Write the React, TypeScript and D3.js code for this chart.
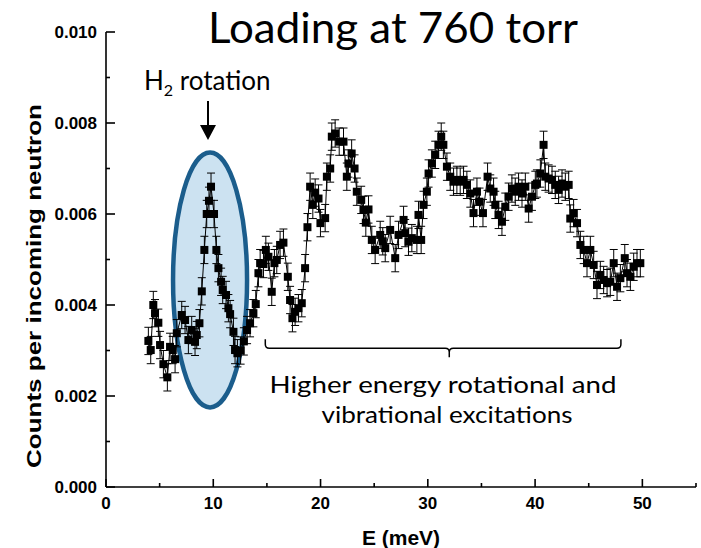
import React from "react";
import * as d3 from "d3";

const energy = [
  3.95, 4.17, 4.41, 4.57, 4.88, 5.04, 5.35, 5.72, 5.97, 6.22, 6.44, 6.6, 7.06, 7.37, 7.68, 7.99, 8.3, 8.46, 8.71,
  8.93, 9.17, 9.39, 9.6, 9.79, 10.07, 10.29, 10.48, 10.73, 10.88, 11.19, 11.41, 11.57, 11.88, 12.03, 12.25,
  12.55, 12.85, 13.15, 13.43, 13.74, 13.96, 14.21, 14.37, 14.68, 14.9, 15.14, 15.45, 15.7, 15.92, 16.23, 16.54,
  16.95, 17.16, 17.38, 17.63, 17.94, 18.25, 18.56, 18.78, 19.03, 19.28, 19.5, 19.81, 19.99, 20.43, 20.59, 20.9,
  21.05, 21.36, 21.74, 22.14, 22.45, 22.6, 22.9, 23.17, 23.38, 23.79, 24.0, 24.22, 24.47, 24.78, 25.09, 25.56,
  25.8, 26.03, 26.49, 26.96, 27.27, 27.74, 27.89, 28.2, 28.51, 28.98, 29.13, 29.38, 29.6, 29.91, 30.07, 30.38,
  30.69, 31.0, 31.25, 31.45, 31.78, 32.09, 32.4, 32.71, 33.02, 33.33, 33.64, 33.96, 34.26, 34.58, 34.82, 35.14,
  35.57, 35.82, 36.13, 36.29, 36.6, 36.91, 37.22, 37.53, 37.84, 38.15, 38.46, 38.78, 39.09, 39.4, 39.71, 40.02,
  40.17, 40.49, 40.79, 40.95, 41.26, 41.58, 41.88, 42.19, 42.51, 42.82, 43.13, 43.28, 43.59, 43.91, 44.22,
  44.53, 44.84, 45.15, 45.46, 45.77, 46.08, 46.39, 46.71, 47.01, 47.33, 47.64, 47.95, 48.36, 48.57, 48.88,
  49.19, 49.5, 49.81,
];

const counts = [
  0.00321, 0.00301, 0.004, 0.00382, 0.00361, 0.00312, 0.0027, 0.00241, 0.00308, 0.00301, 0.00281, 0.00338,
  0.00378, 0.00367, 0.00323, 0.00345, 0.00319, 0.00334, 0.0036,
  0.0043, 0.00521, 0.006, 0.00629, 0.0066, 0.006, 0.00521, 0.00481, 0.00451, 0.00433, 0.00422, 0.00393,
  0.0038, 0.00341, 0.00301, 0.00294,
  0.003, 0.0032, 0.00345, 0.0036, 0.00382, 0.00402, 0.0047, 0.00492, 0.0049, 0.00521, 0.00506, 0.00429,
  0.00492, 0.00499, 0.00532, 0.00537,
  0.00462, 0.00411, 0.00371, 0.00385, 0.00393, 0.00404, 0.00481, 0.00571, 0.0066, 0.0062, 0.00647, 0.00634,
  0.0058, 0.00591, 0.00682, 0.007,
  0.0077, 0.00777, 0.00759, 0.00759, 0.00682, 0.00711, 0.00733, 0.007, 0.00649, 0.00631, 0.00609, 0.00581,
  0.0061, 0.00543, 0.00521, 0.00554,
  0.0054, 0.00525, 0.00565, 0.00503, 0.00554, 0.00587, 0.00558, 0.00539, 0.00547, 0.00543, 0.00598, 0.00543,
  0.0062, 0.00649, 0.00689, 0.00711,
  0.0073, 0.00752, 0.0077, 0.00752, 0.00704, 0.00682, 0.00671, 0.00675, 0.00671, 0.00675, 0.00664, 0.00645,
  0.00602, 0.00649, 0.00627, 0.00602,
  0.00682, 0.00656, 0.00649, 0.0062, 0.00598, 0.00583, 0.00616, 0.00638, 0.00656, 0.00649, 0.0066, 0.00645,
  0.0066, 0.00612, 0.00638, 0.00664,
  0.00667, 0.00689, 0.00752, 0.00682, 0.00678, 0.00675, 0.00664, 0.00653, 0.00667, 0.0066, 0.00664, 0.0059,
  0.00602, 0.0058, 0.00532,
  0.00521, 0.00492, 0.00521, 0.00488, 0.00444, 0.00466, 0.00455, 0.00448, 0.00451, 0.00492, 0.0044, 0.00459,
  0.00503, 0.0047, 0.00462,
  0.00484, 0.00492, 0.00492,
];

const errorBar = 0.0003;

const xMajorTicks = [0, 10, 20, 30, 40, 50];
const xMinorTicks = [5, 15, 25, 35, 45, 55];
const yMajorTicks = [0, 0.002, 0.004, 0.006, 0.008, 0.01];
const yMinorTicks = [0.001, 0.003, 0.005, 0.007, 0.009];

const titleText = "Loading at 760 torr";
const xLabel = "E (meV)";
const yLabel = "Counts per incoming neutron";
const bracketLines = ["Higher energy rotational and", "vibrational excitations"];

// annotation anchors in data units
const ellipseCenter = { e: 9.7, c: 0.00455 };
const ellipseHalf = { e: 3.45, c: 0.0028 };
const bracketSpan = { from: 14.85, to: 48.0, mid: 32.0, c: 0.00305 };

export default function App() {
  const x = d3.scaleLinear().domain([0, 55]).range([106, 696]);
  const y = d3.scaleLinear().domain([0, 0.01]).range([487, 32]);
  const fmt = d3.format(".3f");
  const pts = energy.map((e, i) => ({ e, c: counts[i] }));
  const line = d3
    .line<{ e: number; c: number }>()
    .x((d) => x(d.e))
    .y((d) => y(d.c));

  const cx = x(ellipseCenter.e);
  const cy = y(ellipseCenter.c);
  const rx = x(ellipseCenter.e + ellipseHalf.e) - cx;
  const ry = cy - y(ellipseCenter.c + ellipseHalf.c);

  const bx0 = x(bracketSpan.from);
  const bx1 = x(bracketSpan.to);
  const bxm = x(bracketSpan.mid);
  const by = y(bracketSpan.c);
  const r = 4;
  const bracketPath = [
    `M${bx0},${by - 9}`,
    `L${bx0},${by - r}`,
    `Q${bx0},${by} ${bx0 + r},${by}`,
    `L${bxm - r},${by}`,
    `Q${bxm},${by} ${bxm},${by + r}`,
    `L${bxm},${by + 9}`,
    `M${bxm},${by + r}`,
    `Q${bxm},${by} ${bxm + r},${by}`,
    `L${bx1 - r},${by}`,
    `Q${bx1},${by} ${bx1},${by - r}`,
    `L${bx1},${by - 9}`,
  ].join(" ");

  const sq = 8;
  const cap = 4;

  return (
    <svg width={701} height={548} style={{ position: "absolute", left: 0, top: 0, background: "#fff" }}>
      <rect x={0} y={0} width={701} height={548} fill="#fff" />
      {/* ellipse highlight */}
      <ellipse cx={cx} cy={cy} rx={rx} ry={ry} fill="#cce2f1" stroke="#1b5d8c" strokeWidth={4.5} />

      {/* axes */}
      <g stroke="#000" strokeWidth={1.6} fill="none">
        <line x1={x(0)} x2={x(55)} y1={y(0)} y2={y(0)} />
        <line x1={x(0)} x2={x(0)} y1={y(0)} y2={y(0.01)} />
        {xMajorTicks.map((t) => (
          <line key={"xM" + t} x1={x(t)} x2={x(t)} y1={y(0)} y2={y(0) - 8} />
        ))}
        {xMinorTicks.map((t) => (
          <line key={"xm" + t} x1={x(t)} x2={x(t)} y1={y(0)} y2={y(0) - 4} />
        ))}
        {yMajorTicks.map((t) => (
          <line key={"yM" + t} x1={x(0)} x2={x(0) + 9} y1={y(t)} y2={y(t)} />
        ))}
        {yMinorTicks.map((t) => (
          <line key={"ym" + t} x1={x(0)} x2={x(0) + 4} y1={y(t)} y2={y(t)} />
        ))}
      </g>
      <g fontFamily="'Liberation Sans', Arial, sans-serif" fontWeight="bold" fontSize={17} fill="#000">
        {xMajorTicks.map((t) => (
          <text key={"xl" + t} x={x(t)} y={509} textAnchor="middle">
            {t}
          </text>
        ))}
        {yMajorTicks.map((t) => (
          <text key={"yl" + t} x={97} y={y(t) + 6} textAnchor="end">
            {fmt(t)}
          </text>
        ))}
      </g>
      <text
        x={401}
        y={545}
        textAnchor="middle"
        fontFamily="'Liberation Sans', Arial, sans-serif"
        fontWeight="bold"
        fontSize={21}
      >
        {xLabel}
      </text>
      <text
        transform={`translate(41,${286}) rotate(-90)`}
        textAnchor="middle"
        fontFamily="'Liberation Sans', Arial, sans-serif"
        fontWeight="bold"
        fontSize={21}
        textLength={364}
        lengthAdjust="spacingAndGlyphs"
      >
        {yLabel}
      </text>

      {/* data */}
      <path d={line(pts) || ""} fill="none" stroke="#000" strokeWidth={1} />
      <g stroke="#000" strokeWidth={1}>
        {pts.map((d, i) => (
          <g key={"e" + i}>
            <line x1={x(d.e)} x2={x(d.e)} y1={y(d.c - errorBar)} y2={y(d.c + errorBar)} />
            <line x1={x(d.e) - cap} x2={x(d.e) + cap} y1={y(d.c + errorBar)} y2={y(d.c + errorBar)} />
            <line x1={x(d.e) - cap} x2={x(d.e) + cap} y1={y(d.c - errorBar)} y2={y(d.c - errorBar)} />
          </g>
        ))}
      </g>
      <g fill="#000">
        {pts.map((d, i) => (
          <rect key={"s" + i} x={x(d.e) - sq / 2} y={y(d.c) - sq / 2} width={sq} height={sq} />
        ))}
      </g>

      {/* title & annotations */}
      <text
        x={393}
        y={43}
        textAnchor="middle"
        fontFamily="Lato, 'Open Sans', sans-serif"
        fontSize={42}
        textLength={370}
        lengthAdjust="spacingAndGlyphs"
        fill="#000"
      >
        {titleText}
      </text>
      <text x={144} y={90} fontFamily="Lato, 'Open Sans', sans-serif" fontSize={26} fill="#000">
        H<tspan fontSize={16} dy={6}>2</tspan>
        <tspan dy={-6}> rotation</tspan>
      </text>
      <g>
        <line x1={208} x2={208} y1={101} y2={128} stroke="#000" strokeWidth={2} />
        <path d="M200,125 L216,125 L208,140 Z" fill="#000" />
      </g>
      <path d={bracketPath} fill="none" stroke="#000" strokeWidth={1.5} />
      <g fontFamily="Lato, 'Open Sans', sans-serif" fontSize={23} fill="#000" textAnchor="middle">
        <text x={443} y={393} textLength={347} lengthAdjust="spacingAndGlyphs">
          {bracketLines[0]}
        </text>
        <text x={447} y={423} textLength={251} lengthAdjust="spacingAndGlyphs">
          {bracketLines[1]}
        </text>
      </g>
    </svg>
  );
}
